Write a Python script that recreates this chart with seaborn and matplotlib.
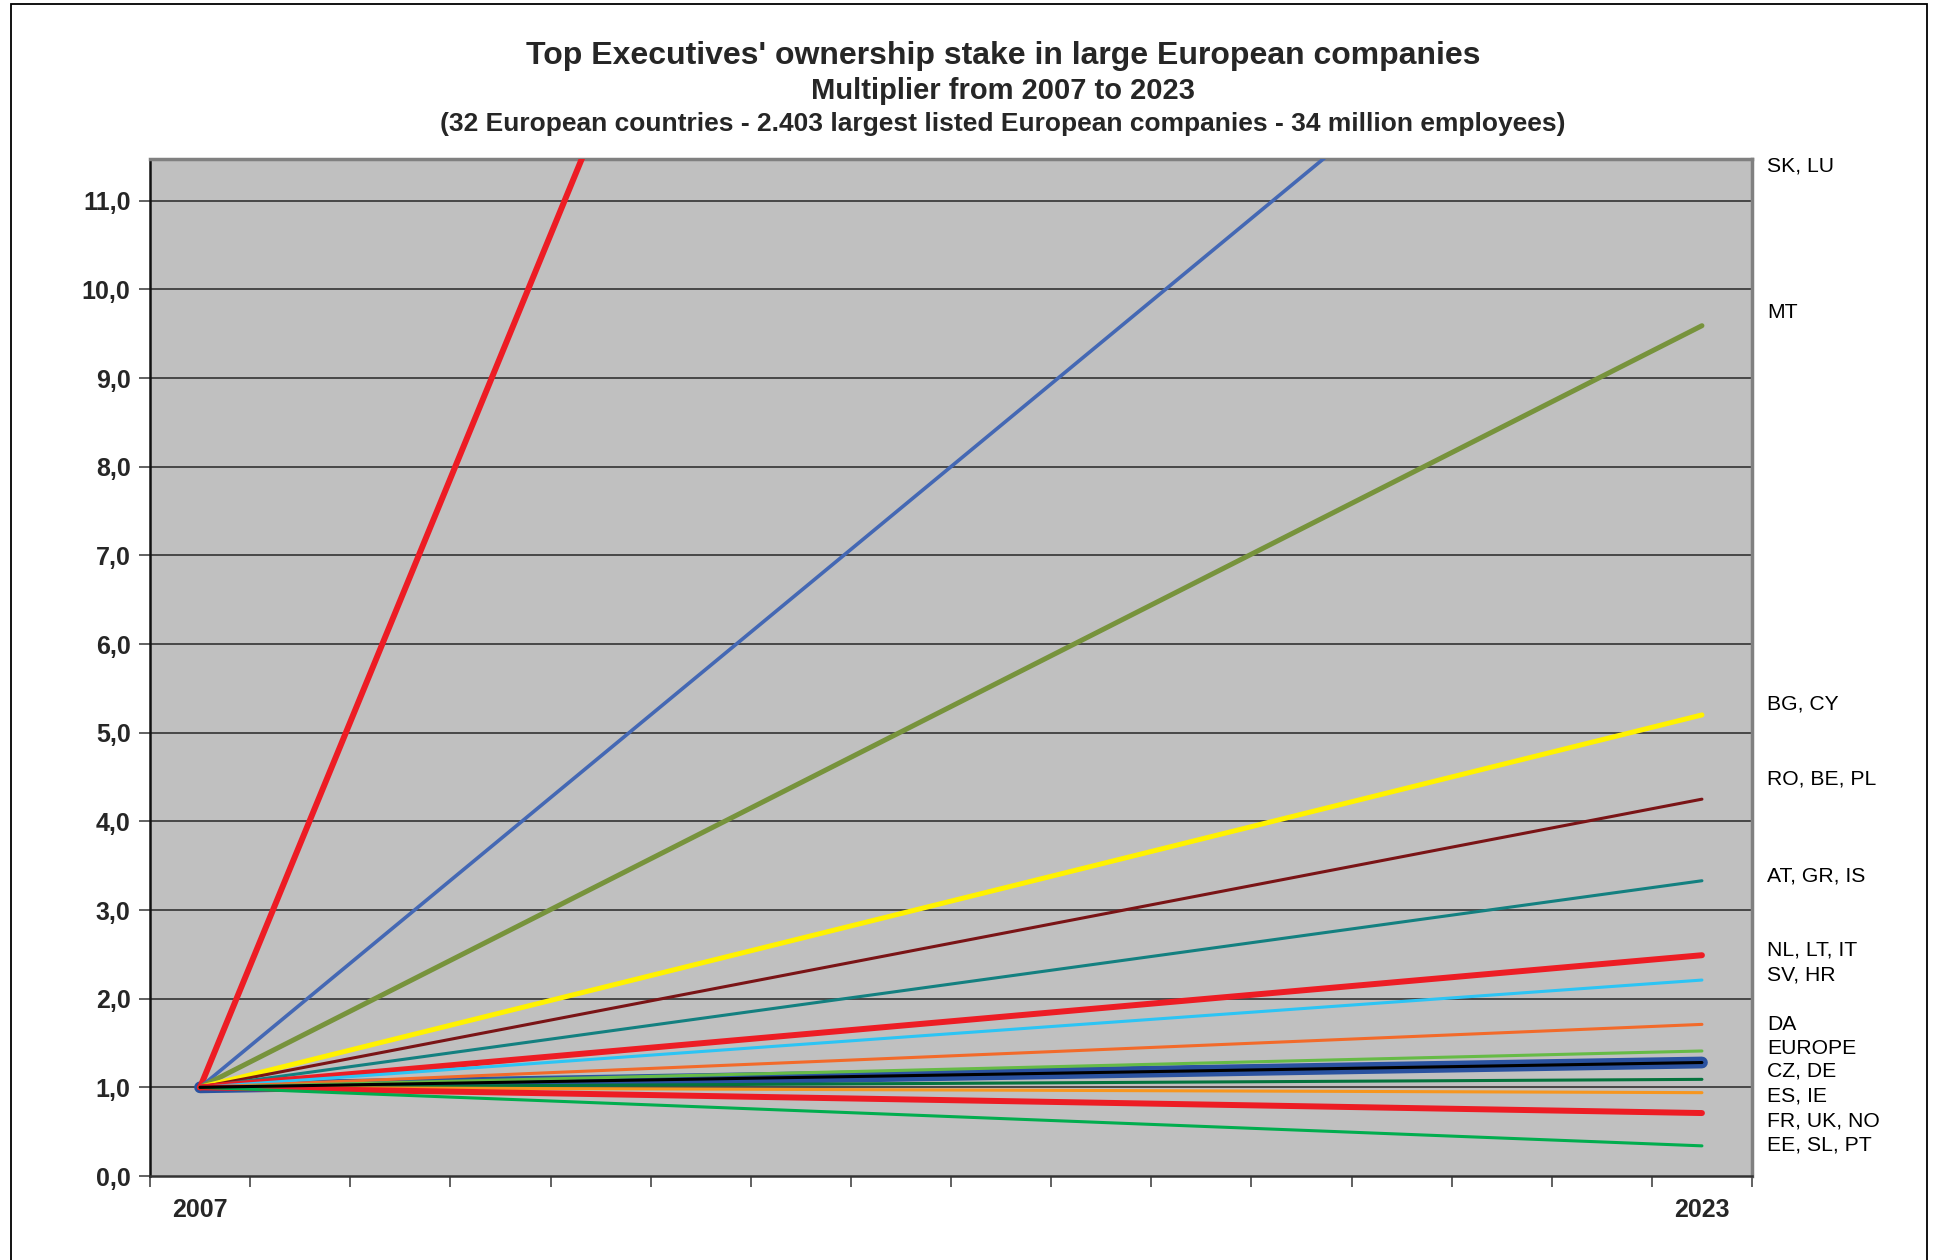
import matplotlib
matplotlib.use("Agg")
import matplotlib.pyplot as plt
import seaborn as sns
import pandas as pd
import numpy as np
from matplotlib.patches import Rectangle
from matplotlib.ticker import FuncFormatter, FixedLocator

# ---------------- data ----------------
categories = ['2007'] + [''] * 14 + ['2023']
series_names = ['SK', 'LU', 'MT', 'BG, CY', 'RO, BE, PL', 'AT, GR, IS',
                'NL, LT, IT', 'SV, HR', 'DA', 'CZ', 'EUROPE', 'DE',
                'ES, IE', 'FR, UK, NO', 'EE, SL, PT']
start_values = [1.0] * 15
end_values = [42.2, 15.0, 9.59, 5.20, 4.25, 3.33, 2.49, 2.21, 1.71, 1.41,
              1.28, 1.09, 0.94, 0.71, 0.34]
right_labels = ['SK, LU', 'MT', 'BG, CY', 'RO, BE, PL', 'AT, GR, IS',
                'NL, LT, IT', 'SV, HR', 'DA', 'EUROPE', 'CZ, DE', 'ES, IE',
                'FR, UK, NO', 'EE, SL, PT']
title_lines = ["Top Executives' ownership stake in large European companies",
               "Multiplier from 2007 to 2023",
               "(32 European countries - 2.403 largest listed European companies - 34 million employees)"]

# ---------------- styles ----------------
colors = ['#ED1C24', '#4468B4', '#77933C', '#FFF200', '#7A1416', '#138080',
          '#ED1C24', '#2CC4F4', '#F26A2A', '#66BB46', '#2A52A0', '#05733D',
          '#F7961E', '#ED1C24', '#00AD4E']
widths = [4.3, 2.6, 3.6, 3.6, 2.2, 2.2, 4.3, 2.2, 2.2, 2.2, 8.5, 2.2, 2.2, 4.3, 2.2]
label_y = [166, 313, 704, 779, 876, 950, 975, 1024, 1048, 1071, 1096, 1121, 1145]

W, H = 1934, 1260
sns.set_theme(style='white')
plt.rcParams['font.family'] = ['Liberation Sans', 'DejaVu Sans']
fig = plt.figure(figsize=(W / 100, H / 100), dpi=100)
ax = fig.add_axes([150 / W, 1 - 1176 / H, (1752 - 150) / W, (1176 - 159) / H])
ax.set_facecolor('#C0C0C0')

x0 = categories.index('2007')
x1 = categories.index('2023')
rows = []
for name, s, e in zip(series_names, start_values, end_values):
    rows.append({'series': name, 'x': x0, 'y': s})
    rows.append({'series': name, 'x': x1, 'y': e})
df = pd.DataFrame(rows)

# gridlines
for v in range(1, 12):
    ax.axhline(v, color='#333333', lw=1.2, zorder=1)

order = list(range(len(series_names)))
eu = series_names.index('EUROPE')
order.remove(eu)
order = [eu] + order
for i in order:
    sub = df[df['series'] == series_names[i]]
    sns.lineplot(data=sub, x='x', y='y', color=colors[i], linewidth=widths[i],
                 ax=ax, zorder=3, legend=False, solid_capstyle='round')
    if series_names[i] == 'EUROPE':
        sns.lineplot(data=sub, x='x', y='y', color='black', linewidth=2.2,
                     ax=ax, zorder=3.5, legend=False, solid_capstyle='round')

ax.set_xlim(-0.5, len(categories) - 0.5)
ax.set_ylim(0, 11.47)
ax.set_xlabel('')
ax.set_ylabel('')

# y axis
ax.set_yticks(np.arange(0, 12, 1.0))
ax.yaxis.set_major_formatter(FuncFormatter(lambda v, p: f"{v:.1f}".replace('.', ',')))
ax.tick_params(axis='y', which='major', direction='out', length=8, width=1.3,
               color='#555555', labelsize=18, pad=6, left=True)
for t in ax.get_yticklabels():
    t.set_fontweight('bold')

# x axis
ax.xaxis.set_major_locator(FixedLocator([x0, x1]))
ax.set_xticklabels(['2007', '2023'])
ax.xaxis.set_minor_locator(FixedLocator(np.arange(-0.5, len(categories), 1.0)))
ax.tick_params(axis='x', which='major', length=0, labelsize=18, pad=16, bottom=True)
ax.tick_params(axis='x', which='minor', direction='out', length=8, width=1.3,
               color='#555555', bottom=True)
for t in ax.get_xticklabels():
    t.set_fontweight('bold')
ax.grid(False)

for side in ['left', 'bottom']:
    ax.spines[side].set_color('#111111')
    ax.spines[side].set_linewidth(1.8)
for side in ['top', 'right']:
    ax.spines[side].set_color('#808080')
    ax.spines[side].set_linewidth(2.5)
ax.spines['bottom'].set_color('#333333')

# right side labels
for lab, yp in zip(right_labels, label_y):
    fig.text(1767 / W, 1 - yp / H, lab, fontsize=15.2, ha='left', va='center',
             color='black')

# titles
fig.text(1003 / W, 1 - 56 / H, title_lines[0], fontsize=23, fontweight='bold',
         ha='center', va='center')
fig.text(1003 / W, 1 - 91 / H, title_lines[1], fontsize=21, fontweight='bold',
         ha='center', va='center')
fig.text(1003 / W, 1 - 124 / H, title_lines[2], fontsize=19, fontweight='bold',
         ha='center', va='center')

# figure border
fig.patches.append(Rectangle((11 / W, -0.01), (1927 - 11) / W, 1 - 4 / H + 0.01,
                             transform=fig.transFigure, fill=False,
                             edgecolor='black', linewidth=1.3))

fig.savefig('out.png', dpi=100, facecolor='white')
